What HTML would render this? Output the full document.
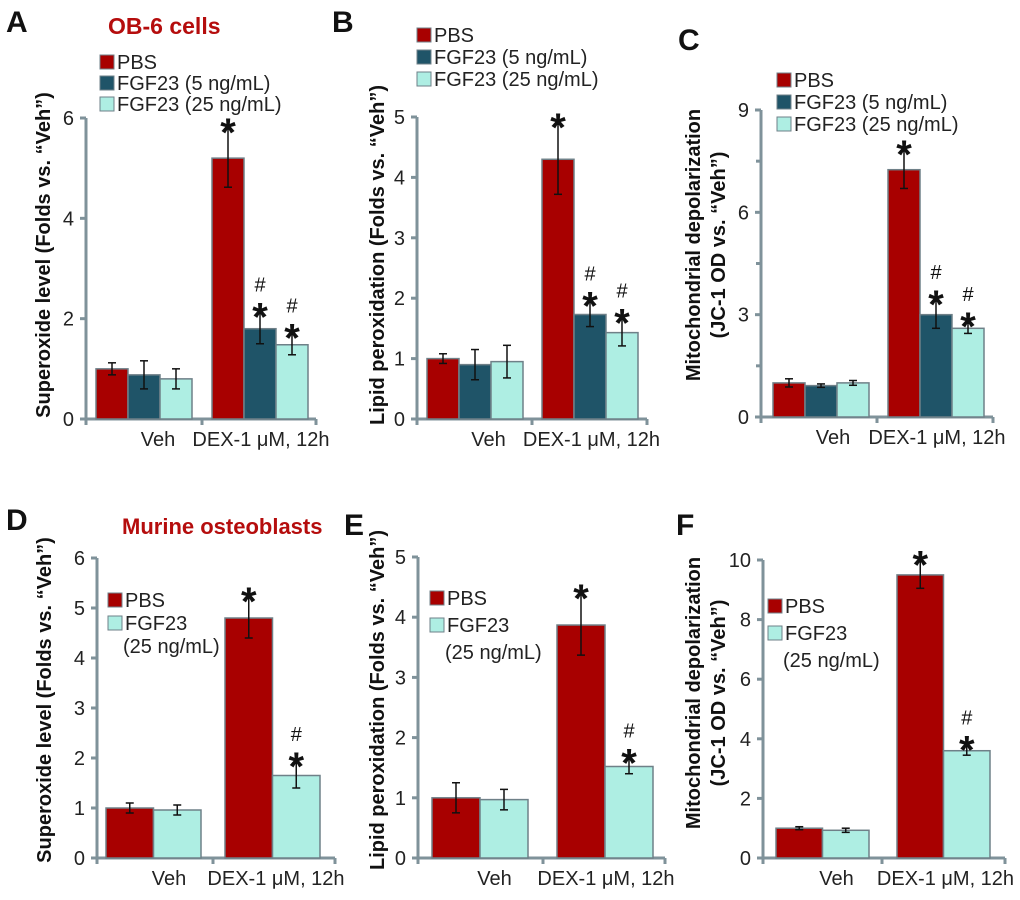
<!DOCTYPE html>
<html><head><meta charset="utf-8"><style>
body{margin:0;background:#fff;width:1020px;height:895px;overflow:hidden}
svg{font-family:"Liberation Sans",Arial,sans-serif}
</style></head><body>
<svg id="fig" width="1020" height="895"></svg>
<script>
const categories=["Veh","DEX-1 μM, 12h"];
const seriesA=[[1.0,0.88,0.8],[5.2,1.8,1.48]];
const errA=[[0.12,0.28,0.2],[0.58,0.3,0.2]];
const seriesB=[[1.0,0.9,0.95],[4.3,1.73,1.43]];
const errB=[[0.08,0.25,0.27],[0.58,0.2,0.22]];
const seriesC=[[1.0,0.92,1.0],[7.25,3.0,2.6]];
const errC=[[0.12,0.05,0.07],[0.55,0.4,0.15]];
const seriesD=[[1.0,0.96],[4.8,1.65]];
const errD=[[0.1,0.1],[0.4,0.25]];
const seriesE=[[1.0,0.97],[3.87,1.52]];
const errE=[[0.25,0.17],[0.5,0.12]];
const seriesF=[[1.0,0.93],[9.5,3.6]];
const errF=[[0.05,0.07],[0.45,0.15]];
const ticksA=[0,2,4,6],ticksB=[0,1,2,3,4,5],ticksC=[0,3,6,9],ticksD=[0,1,2,3,4,5,6],ticksE=[0,1,2,3,4,5],ticksF=[0,2,4,6,8,10];
const minorC=[1.5,4.5,7.5];
const marks3=[["","",""],["*","#*","#*"]];
const marks2=[["",""],["*","#*"]];
const legend3=["PBS","FGF23 (5 ng/mL)","FGF23 (25 ng/mL)"];
const legend2=["PBS","FGF23","(25 ng/mL)"];

const NS="http://www.w3.org/2000/svg";
const svg=document.getElementById('fig');
function el(t,a,p){const e=document.createElementNS(NS,t);for(const k in a)e.setAttribute(k,a[k]);(p||svg).appendChild(e);return e;}
function txt(s,a,p){const e=el('text',a,p);e.textContent=s;return e;}

function panel(o){
  const g=el('g',{});
  
  
  const max=o.ticks[o.ticks.length-1];
  const y=v=>o.y0-(v/max)*(o.y0-o.yTop);
  const ya=el('line',{x1:o.ax,y1:o.yTop,x2:o.ax,y2:o.y0+2,stroke:'#7f929a','stroke-width':3},g);
  
  const xa=el('line',{x1:o.ax-3,y1:o.y0,x2:o.xEnd,y2:o.y0,stroke:'#7f929a','stroke-width':3},g);
  
  [o.ax,o.mid,o.xEnd].forEach(x=>el('line',{x1:x,y1:o.y0,x2:x,y2:o.y0+6,stroke:'#7f929a','stroke-width':3},g));
  (o.minor||[]).forEach(t=>el('line',{x1:o.ax-5,y1:y(t),x2:o.ax,y2:y(t),stroke:'#7f929a','stroke-width':3},g));
  o.ticks.forEach(t=>{
    el('line',{x1:o.ax-6,y1:y(t),x2:o.ax,y2:y(t),stroke:'#7f929a','stroke-width':3},g);
    const tl=txt(String(t),{x:o.ax-12,y:y(t)+7,'font-size':20,'text-anchor':'end',fill:'#222'},g);
    
  });
  categories.forEach((c,ci)=>{
    const cl=txt(c,{x:ci==0?(o.ax+o.mid)/2+14:(o.mid+o.xEnd)/2+2,y:o.y0+27,'font-size':20,'text-anchor':'middle',fill:'#222'},g);
    
    const vals=o.data[ci];
    vals.forEach((v,si)=>{
      const x=o.starts[ci]+si*o.bw;
      const r=el('rect',{x:x,y:y(v),width:o.bw,height:o.y0-y(v),fill:o.colors[si],stroke:'#6f8088','stroke-width':1.5},g);
      
      const e=o.err[ci][si],cx=x+o.bw/2;
      el('line',{x1:cx,y1:y(v+e),x2:cx,y2:y(v-e),stroke:'#111','stroke-width':1.5},g);
      el('line',{x1:cx-4,y1:y(v+e),x2:cx+4,y2:y(v+e),stroke:'#111','stroke-width':1.5},g);
      el('line',{x1:cx-4,y1:y(v-e),x2:cx+4,y2:y(v-e),stroke:'#111','stroke-width':1.5},g);
      const m=o.marks[ci][si];
      if(m.includes('*')){const s=txt('*',{x:cx,y:y(v+e)+17,'font-size':40,'font-weight':'bold','text-anchor':'middle',fill:'#111'},g);}
      if(m.includes('#')){const s=txt('#',{x:cx,y:y(v+e)-22,'font-size':20,'text-anchor':'middle',fill:'#111'},g);}
    });
  });
  o.ytitle.forEach((t,i)=>{
    const yt=txt(t,{x:0,y:0,'font-size':20,'font-weight':'bold','text-anchor':'middle',fill:'#111',transform:`translate(${o.ytx+i*25},${o.yty}) rotate(-90)`},g);
    
  });
  o.legend.forEach((t,i)=>{
    const ly=o.ly+i*o.lgap;
    if(!(o.colors.length==2&&i==2))
      el('rect',{x:o.lx,y:ly-14,width:14,height:14,fill:o.colors[i],stroke:'#6f8088','stroke-width':1},g);
    const lt=txt(t,{x:o.lx+(o.colors.length==2&&i==2?15:17),y:ly,'font-size':20,fill:'#222'},g);
    
  });
  const pl=txt(o.letter,{x:o.px,y:o.py,'font-size':30,'font-weight':'bold',fill:'#111'},g);
  
}
const c3=['#a80000','#1f5468','#aeeee3'],c2=['#a80000','#aeeee3'];
panel({name:'panel-a',letter:'A',px:6,py:32,ax:86,yTop:118,y0:419,xEnd:316,mid:202,starts:[96,212],bw:32,data:seriesA,err:errA,ticks:ticksA,marks:marks3,colors:c3,legend:legend3,lx:100,ly:69,lgap:21,ytitle:['Superoxide level (Folds vs. “Veh”)'],ytx:50,yty:255});
panel({name:'panel-b',letter:'B',px:332,py:32,ax:417,yTop:117,y0:419,xEnd:647,mid:532,starts:[427,542],bw:32,data:seriesB,err:errB,ticks:ticksB,marks:marks3,colors:c3,legend:legend3,lx:417,ly:42,lgap:22,ytitle:['Lipid peroxidation (Folds vs. “Veh”)'],ytx:384,yty:255});
panel({name:'panel-c',letter:'C',px:678,py:50,ax:761,yTop:110,y0:417,xEnd:993,mid:877,starts:[773,888],bw:32,data:seriesC,err:errC,ticks:ticksC,minor:minorC,marks:marks3,colors:c3,legend:legend3,lx:777,ly:87,lgap:22,ytitle:['Mitochondrial depolarization','(JC-1 OD vs. “Veh”)'],ytx:700,yty:245});
panel({name:'panel-d',letter:'D',px:6,py:530,ax:97,yTop:558,y0:858,xEnd:335,mid:213,starts:[106,225],bw:47.5,data:seriesD,err:errD,ticks:ticksD,marks:marks2,colors:c2,legend:legend2,lx:108,ly:607,lgap:23,ytitle:['Superoxide level (Folds vs. “Veh”)'],ytx:51,yty:700});
panel({name:'panel-e',letter:'E',px:344,py:535,ax:418,yTop:557,y0:858,xEnd:665,mid:543,starts:[432,557],bw:48,data:seriesE,err:errE,ticks:ticksE,marks:marks2,colors:c2,legend:legend2,lx:430,ly:605,lgap:27,ytitle:['Lipid peroxidation (Folds vs. “Veh”)'],ytx:384,yty:700});
panel({name:'panel-f',letter:'F',px:676,py:535,ax:763,yTop:560,y0:858,xEnd:1005,mid:882,starts:[776,897],bw:46.5,data:seriesF,err:errF,ticks:ticksF,marks:marks2,colors:c2,legend:legend2,lx:768,ly:613,lgap:27,ytitle:['Mitochondrial depolarization','(JC-1 OD vs. “Veh”)'],ytx:700,yty:693});
const t1=txt('OB-6 cells',{x:108,y:34,'font-size':23,'font-weight':'bold',fill:'#b50d0d'});

const t2=txt('Murine osteoblasts',{x:122,y:534,'font-size':22,'font-weight':'bold',fill:'#b50d0d'});

</script>
</body></html>
